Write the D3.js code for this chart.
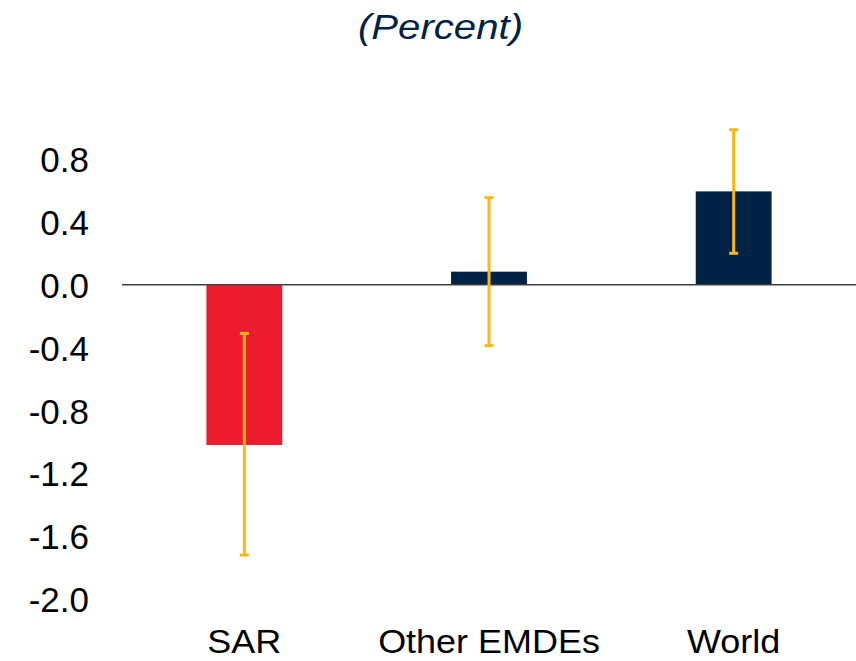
<!DOCTYPE html>
<html>
<head>
<meta charset="utf-8">
<script src="https://cdn.jsdelivr.net/npm/d3@7"></script>
<style>
  html, body { margin: 0; padding: 0; background: #fff; }
  svg { display: block; }
  text { font-family: "Liberation Sans", Arial, sans-serif; }
</style>
</head>
<body>
<svg id="chart" width="856" height="661"></svg>
<script>
// Categories and values (percent)
const categories = ["SAR", "Other EMDEs", "World"];
const values = [-1.02, 0.083, 0.594];
const errLow = [-1.72, -0.388, 0.20];
const errHigh = [-0.31, 0.554, 0.986];
const barColors = ["#EC1C2E", "#002244", "#002244"];
const yTicks = [0.8, 0.4, 0.0, -0.4, -0.8, -1.2, -1.6, -2.0];
const title = "(Percent)";

const svg = d3.select("#chart");

const x = d3.scaleBand().domain(categories).range([122, 856]).padding(0);
const y = d3.scaleLinear().domain([-2.0, 0.8]).range([599, 159]);
const barW = x.bandwidth() * 0.31;
const cx = c => x(c) + x.bandwidth() / 2;

// Title
svg.append("text")
  .attr("x", 440.5).attr("y", 39)
  .attr("text-anchor", "middle")
  .attr("font-size", 35)
  .attr("font-style", "italic")
  .attr("fill", "#002244")
  .attr("textLength", 165)
  .attr("lengthAdjust", "spacingAndGlyphs")
  .text(title);

// Y axis labels (no axis line or ticks), plain hyphen for negatives
const fmt = d3.format(".1f");
const yAxis = d3.axisLeft(y).tickValues(yTicks)
  .tickFormat(d => fmt(d).replace("\u2212", "-"))
  .tickSize(0).tickPadding(0);
const gy = svg.append("g").attr("transform", "translate(89,0)").call(yAxis);
gy.select(".domain").remove();
gy.selectAll("text")
  .attr("font-family", "'Liberation Sans', Arial, sans-serif")
  .attr("font-size", 35)
  .attr("fill", "#000")
  .attr("x", 0)
  .attr("dy", "0.36em");

// Bars
svg.append("g").selectAll("rect")
  .data(categories)
  .join("rect")
  .attr("x", c => cx(c) - barW / 2)
  .attr("width", barW)
  .attr("y", (c, i) => y(Math.max(0, values[i])))
  .attr("height", (c, i) => Math.abs(y(values[i]) - y(0)))
  .attr("fill", (c, i) => barColors[i]);

// Zero line
svg.append("line")
  .attr("x1", 122).attr("x2", 856)
  .attr("y1", y(0)).attr("y2", y(0))
  .attr("stroke", "#404040").attr("stroke-width", 1.5);

// Error bars with short caps
const errColor = "#FDB714";
const eg = svg.append("g");
categories.forEach((c, i) => {
  eg.append("line")
    .attr("x1", cx(c)).attr("x2", cx(c))
    .attr("y1", y(errHigh[i])).attr("y2", y(errLow[i]))
    .attr("stroke", errColor).attr("stroke-width", 3);
  [errHigh[i], errLow[i]].forEach(v => {
    eg.append("line")
      .attr("x1", cx(c) - 4.5).attr("x2", cx(c) + 4.5)
      .attr("y1", y(v)).attr("y2", y(v))
      .attr("stroke", errColor).attr("stroke-width", 3);
  });
});

// Category labels, slightly widened
const xAxis = d3.axisBottom(x).tickSize(0).tickPadding(0);
const gx = svg.append("g").attr("transform", "translate(0,653)").call(xAxis);
gx.select(".domain").remove();
gx.selectAll(".tick").attr("transform", d => `translate(${cx(d)},0)`);
gx.selectAll("text")
  .attr("font-family", "'Liberation Sans', Arial, sans-serif")
  .attr("font-size", 33)
  .attr("fill", "#000")
  .attr("x", 0)
  .attr("y", 0)
  .attr("dy", 0)
  .attr("transform", "scale(1.09,1)");
</script>
</body>
</html>
